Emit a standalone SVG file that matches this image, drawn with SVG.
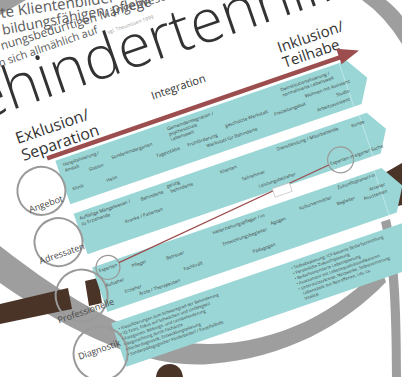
<svg xmlns="http://www.w3.org/2000/svg" width="402" height="377" viewBox="0 0 402 377">
  <style>
    .rim{fill:#9e9e9e}
    .wood{fill:#4a3428}
    .band{fill:#9ad6d6}
    .seam{stroke:#c9ecec;stroke-width:0.7;fill:none}
    .item{font-family:"Open Sans","DejaVu Sans",sans-serif;font-size:4.6px;fill:#3c3c3c}
    .bullet{font-family:"Open Sans","DejaVu Sans",sans-serif;font-size:4.2px;fill:#3c3c3c}
    .row-ring{fill:none;stroke:#9a9a9a;stroke-width:2}
    .mini-ring{fill:none;stroke:#9a9a9a;stroke-width:1.2}
    .row-label{font-family:"Open Sans","DejaVu Sans",sans-serif;font-size:9px;fill:#444;text-anchor:middle}
    .head{font-family:"Open Sans","DejaVu Sans",sans-serif;fill:#333}
    .para{font-family:"Open Sans","DejaVu Sans",sans-serif;fill:#5a5a5a}
    .link{stroke:#9c4d4d;fill:none}
  </style>

  <rect width="402" height="377" fill="#ffffff"/>

  <!-- lens rim and handle behind the sheet -->
  <g id="lens">
    <path class="rim" d="M0,0 L26,0 Q12,8 0,15 Z"/>
    <path class="rim" d="M362,0 L386,0 Q396,8 402,16 L402,44 Q385,16 362,0 Z"/>
    <path class="rim" d="M381,222 C388,250 392,300 392,377 L401,377 C401,300 398,255 390,219 Z"/>
    <path class="rim" d="M0,246 C70,300 140,345 210,344 C280,343 340,310 380,266 L386,282 C345,325 285,358 210,364 C140,370 60,325 0,283 Z"/>
  </g>
  <g id="handle">
    <path class="wood" d="M0,304 L68,288 L72,309 L0,324 Z"/>
    <path class="wood" d="M85,281 L98,278 L102,303 L89,306 Z"/>
    <path class="wood" d="M355,190 L402,163 L402,205 L365,215 Z"/>
    <path class="wood" d="M156,377 C157,368 163,364 170,364 C177,364 182,369 183,377 Z"/>
  </g>

  <!-- quotation above the title -->
  <g id="quote" class="para">
    <text x="1" y="18" font-size="15" transform="rotate(-8 1 18)">te Klientenbilder</text>
    <text x="3" y="35" font-size="14" transform="rotate(-11 3 35)">bildungsfähigen, pflege</text>
    <text x="2" y="50" font-size="12" transform="rotate(-17 2 50)">nungsbedürftigen Mängelwesen</text>
    <text x="0" y="67" font-size="11" transform="rotate(-19 0 67)">n sich allmählich auf</text>
    <text x="108" y="34" font-size="5" fill="#999" transform="rotate(-19 108 34)">vgl. Theunissen 1999</text>
  </g>

  <!-- the sheet, turned by 19 degrees -->
  <g id="sheet" transform="rotate(-19)">
    <text class="head" x="-96" y="108" font-size="60" font-weight="300" fill="#2e2e2e">Behindertenhilfe</text>

    <g id="column-heads" class="head">
      <text x="-30" y="142" font-size="16">Exklusion/</text>
      <text x="-30" y="160" font-size="16">Separation</text>
      <text x="112" y="144" font-size="11">Integration</text>
      <text x="247" y="141" font-size="15">Inklusion/</text>
      <text x="247" y="157" font-size="15">Teilhabe</text>
    </g>

    <!-- row: Angebot -->
    <g id="row-angebot">
      <path class="band" d="M0,170 L308,170 L322,193 L308,216 L0,216 Z"/>
      <line class="seam" x1="300" y1="170" x2="300" y2="216"/>
      <circle class="row-ring" cx="-23" cy="194" r="24"/>
      <text class="row-label" x="-23" y="211">Angebot</text>
      <text class="item" x="6" y="178">Hospitalisierung /</text>
      <text class="item" x="6" y="184">Anstalt</text>
      <text class="item" x="29" y="191">Station</text>
      <text class="item" x="54" y="187">Sonderkindergarten</text>
      <text class="item" x="97" y="200">Tagesstätte</text>
      <text class="item" x="7" y="204">Klinik</text>
      <text class="item" x="42" y="207">Heim</text>
      <text class="item" x="116" y="178">Gemeindeintegration /</text>
      <text class="item" x="116" y="183.5">psychosoziale</text>
      <text class="item" x="116" y="189">Lebenswelt</text>
      <text class="item" x="130" y="200">Frühförderung</text>
      <text class="item" x="172" y="194">geschützte Werkstatt</text>
      <text class="item" x="148" y="207">Werkstatt für Behinderte</text>
      <text class="item" x="222" y="199">Freizeitangebot</text>
      <text class="item" x="236" y="178">Deinstitutionalisierung /</text>
      <text class="item" x="236" y="183.5">normalisierte Lebenswelt</text>
      <text class="item" x="257" y="192">Wohnen mit Assistenz</text>
      <text class="item" x="287" y="201">Studio</text>
      <text class="item" x="264" y="209">Arbeitsassistenz</text>
    </g>

    <!-- row: Adressaten -->
    <g id="row-adressaten">
      <path class="band" d="M0,226 L310,226 L323,247.5 L310,269 L0,269 Z"/>
      <line class="seam" x1="302" y1="226" x2="302" y2="269"/>
      <circle class="row-ring" cx="-23.5" cy="248" r="24"/>
      <text class="row-label" x="-24" y="263">Adressaten</text>
      <text class="item" x="4" y="234">Auffällige Mängelwesen /</text>
      <text class="item" x="4" y="240">zu Erziehende</text>
      <text class="item" x="68" y="236">Behinderte</text>
      <text class="item" x="97" y="232">geistig</text>
      <text class="item" x="99" y="238">behinderte</text>
      <text class="item" x="46" y="252">Kranke / Patienten</text>
      <text class="item" x="152" y="236">Klienten</text>
      <text class="item" x="170" y="250">Teilnehmer</text>
      <text class="item" x="184" y="262">Leistungsbezieher</text>
      <text class="item" x="213" y="233">Dienstleistung / Mitarbeitende</text>
      <text class="item" x="291" y="235">Kunde</text>
      <circle class="mini-ring" cx="270" cy="262" r="13"/>
      <text class="item" x="259" y="264">Experten in eigener Sache</text>
    </g>

    <!-- row: Professionelle -->
    <g id="row-professionelle">
      <path class="band" d="M0,283 L306,283 L320,306.5 L306,330 L0,330 Z"/>
      <line class="seam" x1="298" y1="283" x2="298" y2="330"/>
      <circle class="row-ring" cx="-19" cy="306" r="26"/>
      <text class="row-label" x="-20" y="325">Professionelle</text>
      <circle class="mini-ring" cx="15" cy="288" r="12"/>
      <text class="item" x="15" y="290" text-anchor="middle">Experten</text>
      <text class="item" x="7" y="306">Aufseher</text>
      <text class="item" x="38" y="296">Pfleger</text>
      <text class="item" x="73" y="300">Betreuer</text>
      <text class="item" x="23" y="318">Erzieher</text>
      <text class="item" x="36" y="325">Ärzte / Therapeuten</text>
      <text class="item" x="86" y="316">Fachkraft</text>
      <text class="item" x="125" y="291">Heilerziehungspfleger /-in</text>
      <text class="item" x="131" y="305">Entwicklungsbegleiter</text>
      <text class="item" x="183" y="301">Agogen</text>
      <text class="item" x="157" y="322">Pädagogen</text>
      <text class="item" x="215" y="296">Kulturvermittler</text>
      <text class="item" x="258" y="289">Zukunftsplaner/-in</text>
      <text class="item" x="252" y="304">Begleiter</text>
      <text class="item" x="304" y="301" text-anchor="end">Anleiter</text>
      <text class="item" x="304" y="308" text-anchor="end">Assistenten</text>
    </g>

    <!-- row: Diagnostik -->
    <g id="row-diagnostik">
      <path class="band" d="M0,342 L308,342 L322,365 L308,388 L0,388 Z"/>
      <circle class="row-ring" cx="-20" cy="367" r="27"/>
      <text class="row-label" x="-20" y="366">Diagnostik</text>
      <text class="bullet" x="5" y="351">• Klassifizierungen zum Schweregrad der Behinderung</text>
      <text class="bullet" x="5" y="356.5">• IQ-Tests, Fokus auf Schwächen und Unfähigkeit</text>
      <text class="bullet" x="5" y="362">• Kategorien: Bildungs- und Lernbehinderung</text>
      <text class="bullet" x="5" y="367.5">• Begutachtung durch Fachärzte</text>
      <text class="bullet" x="5" y="373">• Förderdiagnostik, Entwicklungsplanung</text>
      <text class="bullet" x="5" y="378.5">• Sonderpädagogischer Förderbedarf / Einzelfallhilfe</text>
      <text class="bullet" x="188" y="350">• Teilhabeplanung: ICF-basierte Bedarfsermittlung</text>
      <text class="bullet" x="188" y="355.5">• Persönliche Zukunftsplanung</text>
      <text class="bullet" x="188" y="361">• Bedarfsorientierte Lebensplanung</text>
      <text class="bullet" x="188" y="366.5">• Assessment mit Lebensqualitätsindikatoren</text>
      <text class="bullet" x="188" y="372">• Unterstützerkreise, Netzwerke, Selbstvertretung</text>
      <text class="bullet" x="191" y="377.5">Lebensziele mit Betroffenen, Lds. ca.</text>
      <text class="bullet" x="191" y="383">Vitalität</text>
    </g>

    <!-- arrow across the columns and the link between the expert rings -->
    <g id="connectors">
      <line class="link" x1="-7" y1="165" x2="305" y2="165" stroke-width="4.5"/>
      <polygon points="302,155.5 323,164.5 302,172" fill="#9c4d4d"/>
      <line class="link" x1="27" y1="287" x2="257" y2="263" stroke-width="1.3"/>
      <rect x="196" y="267" width="18" height="9" fill="#fff" stroke="#bbb" stroke-width="0.6"/>
    </g>
  </g>
</svg>
